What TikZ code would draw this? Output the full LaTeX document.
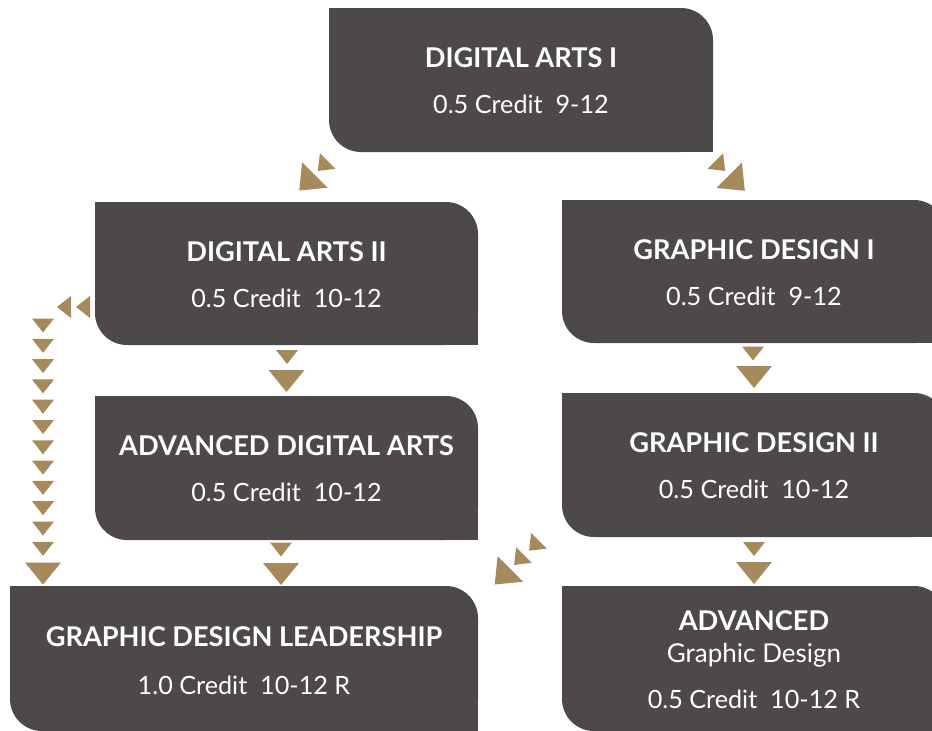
\documentclass[tikz,border=0pt]{standalone}
\usepackage{fontspec}
\setmainfont{Lato}
\usetikzlibrary{backgrounds,calc}
\definecolor{boxgray}{HTML}{4D4948}
\definecolor{arrowtan}{HTML}{A68A5C}
\tikzset{
  box/.style={inner sep=0pt, outer sep=0pt, draw=none},
  ttl/.style={text=white, font=\fontsize{27.2}{29}\selectfont\bfseries, anchor=base, inner sep=0pt},
  sub/.style={text=white, font=\fontsize{25.2}{27}\selectfont, anchor=base, inner sep=0pt},
  arrowfill/.style={fill=arrowtan},
}
% triangle: centre (cx,cy), pointing direction (dx,dy) (unit, y down), base width w, height h
\newcommand\arrowtri[6]{%
  \fill[arrowfill] ({#1+(#3)*(#6)/2},{#2+(#4)*(#6)/2})
    -- ({#1-(#3)*(#6)/2-(#4)*(#5)/2},{#2-(#4)*(#6)/2+(#3)*(#5)/2})
    -- ({#1-(#3)*(#6)/2+(#4)*(#5)/2},{#2-(#4)*(#6)/2-(#3)*(#5)/2}) -- cycle;}
\newcommand\smalltri[4]{\arrowtri{#1}{#2}{#3}{#4}{22}{14}}
\newcommand\bigtri[4]{\arrowtri{#1}{#2}{#3}{#4}{36}{22}}
\newcommand\cornerbox[1]{%
  \fill[boxgray, rounded corners=32pt] (#1.north west) rectangle (#1.south east);
  \fill[boxgray] (#1.north west) rectangle ($(#1.north west)+(34,34)$);
  \fill[boxgray] (#1.south east) rectangle ($(#1.south east)+(-34,-34)$);
}
\begin{document}
\begin{tikzpicture}[x=1pt, y=-1pt]
\useasboundingbox (0,0) rectangle (932,731);
% boxes
\node[box, minimum width=384pt, minimum height=144pt] (b1) at (521,80) {};
\node[box, minimum width=383pt, minimum height=143pt] (b2) at (286.5,273.5) {};
\node[box, minimum width=384pt, minimum height=143pt] (b3) at (754,271.5) {};
\node[box, minimum width=383pt, minimum height=144pt] (b4) at (286.5,468) {};
\node[box, minimum width=384pt, minimum height=144pt] (b5) at (754,465) {};
\node[box, minimum width=468pt, minimum height=145pt] (b6) at (244,658.5) {};
\node[box, minimum width=384pt, minimum height=145pt] (b7) at (754,658.5) {};
\begin{pgfonlayer}{background}
  \foreach \b in {b1,b2,b3,b4,b5,b6,b7} {\cornerbox{\b}}
\end{pgfonlayer}
% texts
\node[ttl] (t1) at ($(b1.north)+(0,59)$) {DIGITAL ARTS I};
\node[sub] (s1) at ($(b1.north)+(0,105)$) {0.5 Credit\ \ 9-12};
\node[ttl] (t2) at ($(b2.north)+(0,59)$) {DIGITAL ARTS II};
\node[sub] (s2) at ($(b2.north)+(0,105)$) {0.5 Credit\ \ 10-12};
\node[ttl] (t3) at ($(b3.north)+(0,59)$) {GRAPHIC DESIGN I};
\node[sub] (s3) at ($(b3.north)+(0,105)$) {0.5 Credit\ \ 9-12};
\node[ttl] (t4) at ($(b4.north)+(0,59)$) {ADVANCED DIGITAL ARTS};
\node[sub] (s4) at ($(b4.north)+(0,105)$) {0.5 Credit\ \ 10-12};
\node[ttl] (t5) at ($(b5.north)+(0,59)$) {GRAPHIC DESIGN II};
\node[sub] (s5) at ($(b5.north)+(0,105)$) {0.5 Credit\ \ 10-12};
\node[ttl] (t6) at ($(b6.north)+(0,60)$) {GRAPHIC DESIGN LEADERSHIP};
\node[sub] (s6) at ($(b6.north)+(0,108)$) {1.0 Credit\ \ 10-12 R};
\node[ttl] (t7) at ($(b7.north)+(0,44)$) {ADVANCED};
\node[sub, font=\fontsize{26}{28}\selectfont] (g7) at ($(b7.north)+(0,76)$) {Graphic Design};
\node[sub] (s7) at ($(b7.north)+(0,122)$) {0.5 Credit\ \ 10-12 R};
% triangle connectors
% b1 -> b2 (down-left)
\smalltri{322.75}{166}{-0.7071}{0.7071}
\bigtri{307}{182.75}{-0.7071}{0.7071}
% b1 -> b3 (down-right)
\smalltri{720.25}{166}{0.7071}{0.7071}
\bigtri{737}{183}{0.7071}{0.7071}
% b2 -> b4
\smalltri{287}{357}{0}{1}
\bigtri{286.5}{381}{0}{1}
% b4 -> b6
\smalltri{281}{549.5}{0}{1}
\bigtri{281}{574}{0}{1}
% b3 -> b5
\smalltri{753}{353.5}{0}{1}
\bigtri{754}{377}{0}{1}
% b5 -> b7
\smalltri{754}{549}{0}{1}
\bigtri{754}{573}{0}{1}
% b5 -> b6 (down-left)
\smalltri{534}{545.75}{-0.7071}{0.7071}
\smalltri{519}{560}{-0.7071}{0.7071}
\bigtri{502.5}{576.75}{-0.7071}{0.7071}
% b2 -> b6 (left column)
\smalltri{83}{307}{-1}{0}
\smalltri{64}{307}{-1}{0}
\foreach \k in {0,...,11} {\smalltri{43}{325.5+20.3*\k}{0}{1}}
\bigtri{43}{573.5}{0}{1}
\end{tikzpicture}
\end{document}
